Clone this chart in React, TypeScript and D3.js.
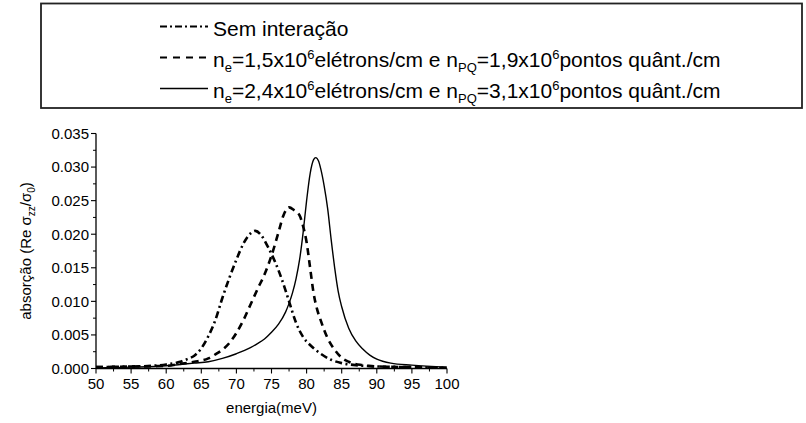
import React from "react";
import * as d3 from "d3";

// ---- data ----
const xTicks = [50, 55, 60, 65, 70, 75, 80, 85, 90, 95, 100];
const yTicks = [0, 0.005, 0.01, 0.015, 0.02, 0.025, 0.03, 0.035];

const semE = [50, 55, 58, 60, 62, 63, 64, 65, 66, 67, 68, 69, 70, 71, 72, 72.7, 73.5, 74.5, 75.5, 76.5, 77.5, 78.5, 79.5, 80.5, 82, 83.5, 85, 87, 90, 95, 100];
const semV = [0.0002, 0.0003, 0.0004, 0.0006, 0.001, 0.0014, 0.0019, 0.003, 0.0048, 0.0072, 0.0105, 0.0135, 0.0162, 0.0186, 0.0201, 0.0205, 0.0199, 0.0181, 0.0159, 0.0132, 0.01, 0.0068, 0.0047, 0.0035, 0.0022, 0.0013, 0.0008, 0.0005, 0.0003, 0.0002, 0.0001];

const n1E = [50, 55, 60, 62, 64, 66, 67, 68, 69, 70, 71, 72, 73, 74, 75, 76, 76.7, 77.5, 78.2, 79, 79.5, 80, 80.5, 81, 81.5, 82, 83, 84, 85, 86, 88, 90, 95, 100];
const n1V = [0.0002, 0.0003, 0.0004, 0.0007, 0.001, 0.0015, 0.0021, 0.0028, 0.0038, 0.0053, 0.0072, 0.0095, 0.0118, 0.014, 0.0168, 0.0203, 0.0228, 0.024, 0.0236, 0.0228, 0.0212, 0.0188, 0.015, 0.0112, 0.0088, 0.0072, 0.0045, 0.0028, 0.0016, 0.001, 0.0005, 0.0003, 0.0002, 0.0001];

const n2E = [50, 55, 60, 62, 64, 66, 68, 70, 72, 73, 74, 75, 76, 77, 77.5, 78, 78.5, 79, 79.5, 80, 80.5, 81, 81.3, 81.7, 82, 82.5, 83, 83.5, 84, 84.5, 85, 86, 87, 88, 89, 90, 92, 95, 100];
const n2V = [0.0001, 0.0002, 0.0004, 0.0006, 0.0008, 0.001, 0.0015, 0.0022, 0.0031, 0.0037, 0.0044, 0.0054, 0.0066, 0.0084, 0.0097, 0.0113, 0.0134, 0.0162, 0.0202, 0.025, 0.029, 0.0311, 0.0314, 0.0309, 0.0298, 0.0272, 0.0238, 0.0192, 0.015, 0.0115, 0.0092, 0.006, 0.0041, 0.0029, 0.002, 0.0014, 0.0008, 0.0005, 0.0002];

const FONT = "'Liberation Sans', Arial, Helvetica, sans-serif";

export default function App() {
  const x = d3.scaleLinear().domain([50, 100]).range([96, 447]);
  const y = d3.scaleLinear().domain([0, 0.035]).range([368.5, 133.5]);

  const mk = (E: number[], V: number[]) =>
    d3
      .line<number>()
      .x((_, i) => x(E[i]))
      .y((v) => y(v))
      .curve(d3.curveMonotoneX)(V) || "";

  const xMinor = d3.range(52.5, 100, 5);
  const yMinor = d3.range(0.0025, 0.035, 0.005);

  const symX1 = 160;
  const symX2 = 208;
  const txtX = 213;
  const base = [35.5, 66.5, 97.5];
  const LF = 21;
  const SF = 13;

  return (
    <svg
      width={806}
      height={423}
      style={{ position: "absolute", left: 0, top: 0, background: "#fff" }}
      fontFamily={FONT}
    >
      {/* legend box */}
      <rect x={41} y={3.5} width={761} height={104.5} fill="#fff" stroke="#222" strokeWidth={1.8} />
      <line x1={symX1} x2={symX2} y1={base[0] - 9} y2={base[0] - 9} stroke="#000" strokeWidth={2.2} strokeDasharray="7 3 2 3" />
      <line x1={symX1} x2={symX2} y1={base[1] - 9} y2={base[1] - 9} stroke="#000" strokeWidth={2.2} strokeDasharray="7 6" />
      <line x1={symX1} x2={symX2} y1={base[2] - 9} y2={base[2] - 9} stroke="#000" strokeWidth={1.3} />
      <text x={txtX} y={base[0]} fontSize={LF}>Sem interação</text>
      <text x={txtX} y={base[1]} fontSize={LF}>
        n<tspan fontSize={SF} dy={5}>e</tspan>
        <tspan dy={-5}>=1,5x10</tspan>
        <tspan fontSize={SF} dy={-8}>6</tspan>
        <tspan dy={8}>elétrons/cm e n</tspan>
        <tspan fontSize={SF} dy={5}>PQ</tspan>
        <tspan dy={-5}>=1,9x10</tspan>
        <tspan fontSize={SF} dy={-8}>6</tspan>
        <tspan dy={8}>pontos quânt./cm</tspan>
      </text>
      <text x={txtX} y={base[2]} fontSize={LF}>
        n<tspan fontSize={SF} dy={5}>e</tspan>
        <tspan dy={-5}>=2,4x10</tspan>
        <tspan fontSize={SF} dy={-8}>6</tspan>
        <tspan dy={8}>elétrons/cm e n</tspan>
        <tspan fontSize={SF} dy={5}>PQ</tspan>
        <tspan dy={-5}>=3,1x10</tspan>
        <tspan fontSize={SF} dy={-8}>6</tspan>
        <tspan dy={8}>pontos quânt./cm</tspan>
      </text>

      {/* curves */}
      <path d={mk(semE, semV)} fill="none" stroke="#000" strokeWidth={2.6} strokeDasharray="7 3.5 2 3.5" />
      <path d={mk(n1E, n1V)} fill="none" stroke="#000" strokeWidth={2.6} strokeDasharray="7 5" />
      <path d={mk(n2E, n2V)} fill="none" stroke="#000" strokeWidth={1.4} />

      {/* axes */}
      <line x1={96} x2={96} y1={y(0.035)} y2={y(0)} stroke="#000" strokeWidth={1.3} />
      <line x1={96} x2={447} y1={y(0)} y2={y(0)} stroke="#000" strokeWidth={1.3} />
      {yTicks.map((t) => (
        <g key={"y" + t}>
          <line x1={91} x2={96} y1={y(t)} y2={y(t)} stroke="#000" strokeWidth={1.1} />
          <text x={89} y={y(t)} dy="0.36em" textAnchor="end" fontSize={15}>
            {t.toFixed(3)}
          </text>
        </g>
      ))}
      {yMinor.map((t) => (
        <line key={"ym" + t} x1={93} x2={96} y1={y(t)} y2={y(t)} stroke="#000" strokeWidth={1} />
      ))}
      {xTicks.map((t) => (
        <g key={"x" + t}>
          <line x1={x(t)} x2={x(t)} y1={y(0)} y2={y(0) + 5} stroke="#000" strokeWidth={1.1} />
          <text x={x(t)} y={389} textAnchor="middle" fontSize={15}>
            {t}
          </text>
        </g>
      ))}
      {xMinor.map((t) => (
        <line key={"xm" + t} x1={x(t)} x2={x(t)} y1={y(0)} y2={y(0) + 3} stroke="#000" strokeWidth={1} />
      ))}

      <text x={271.5} y={413} textAnchor="middle" fontSize={15}>
        energia(meV)
      </text>
      <text transform={`translate(31,${(y(0) + y(0.035)) / 2}) rotate(-90)`} textAnchor="middle" fontSize={15}>
        absorção (Re σ<tspan fontSize={10} dy={4}>zz</tspan>
        <tspan dy={-4}>/σ</tspan>
        <tspan fontSize={10} dy={4}>0</tspan>
        <tspan dy={-4}>)</tspan>
      </text>
    </svg>
  );
}
